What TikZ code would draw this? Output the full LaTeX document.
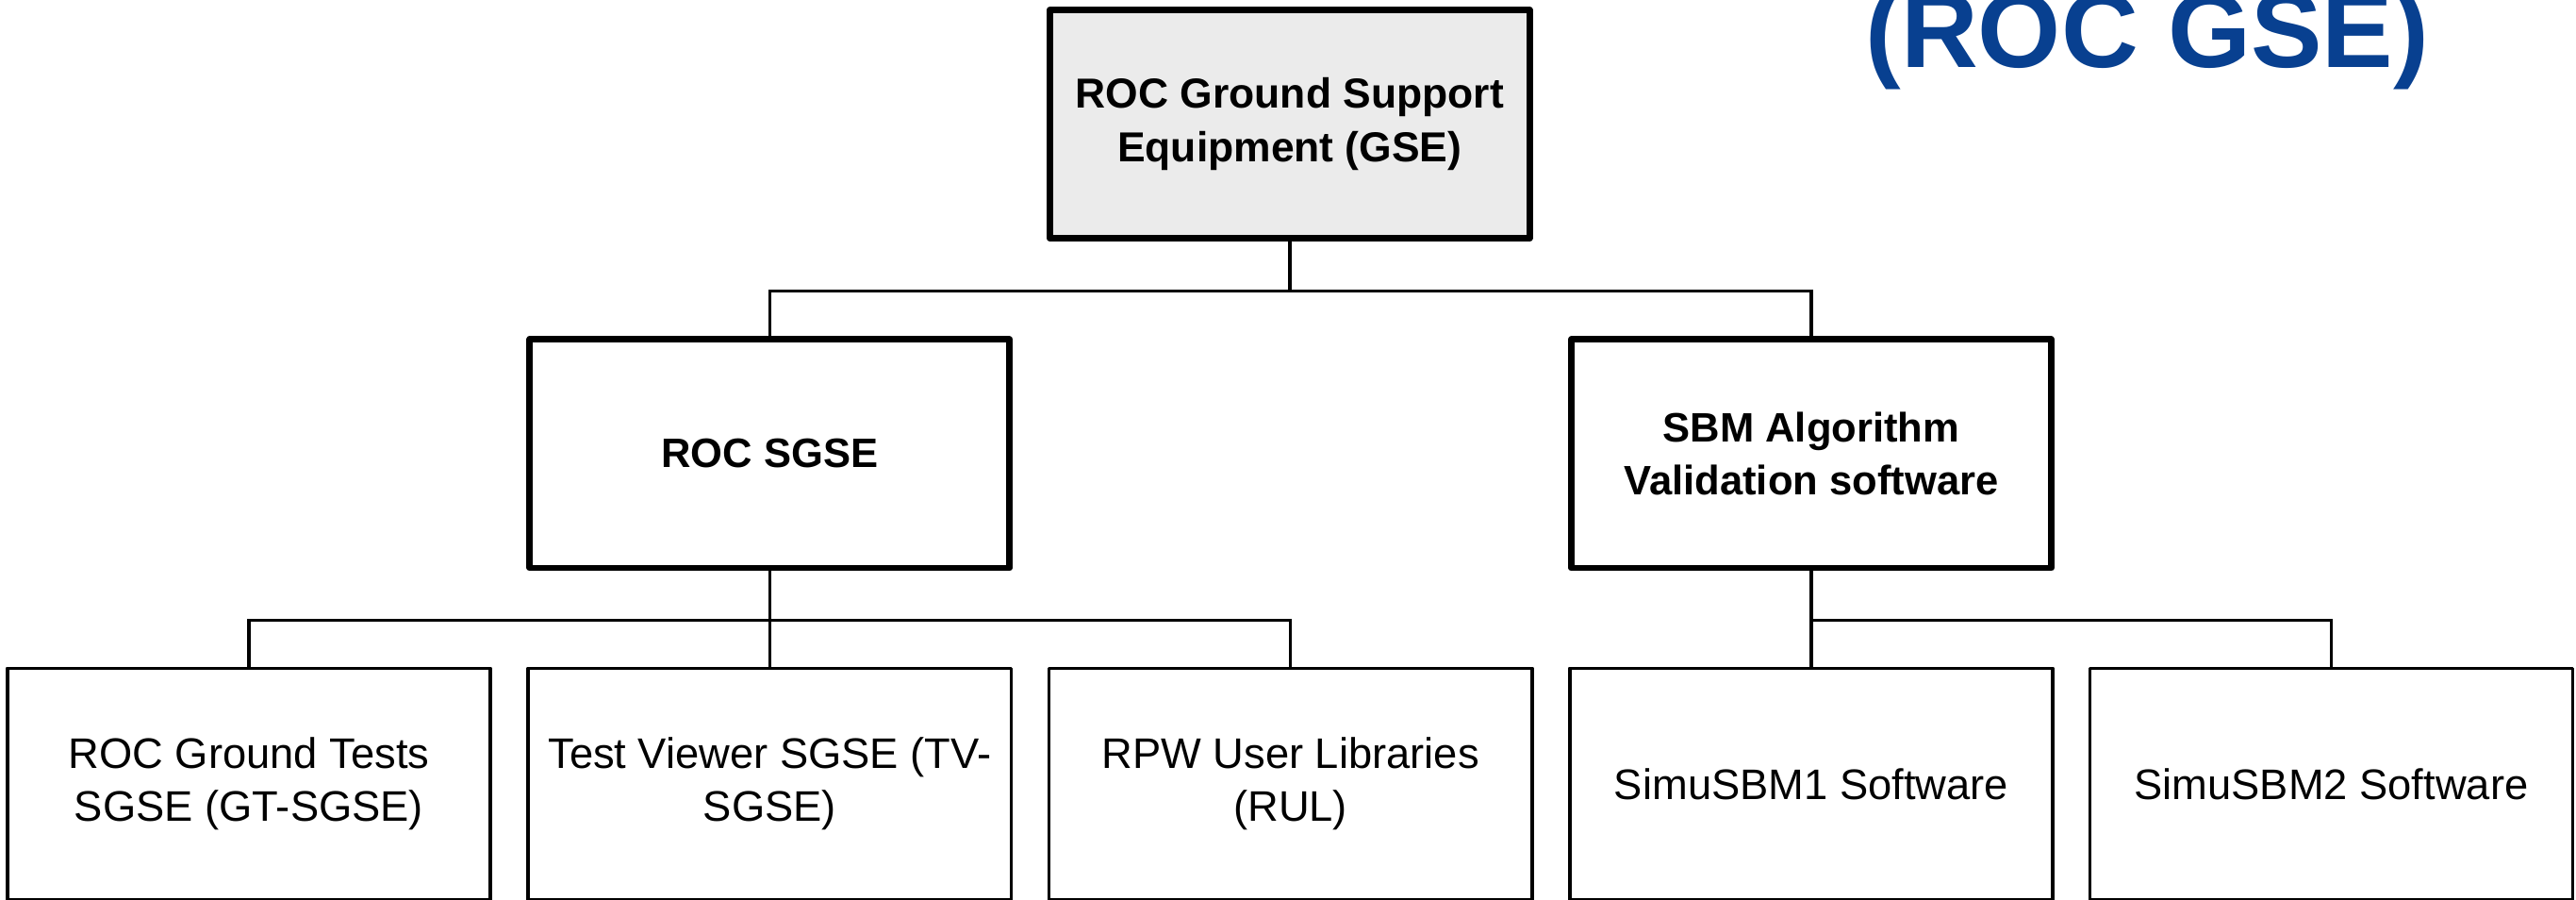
\documentclass[tikz,border=0pt]{standalone}
\usepackage{fontspec}
\setmainfont{Liberation Sans}
\definecolor{titleblue}{RGB}{8,64,144}
\definecolor{topgray}{RGB}{235,235,235}
\begin{document}
\begin{tikzpicture}[x=1pt,y=-1pt,
  thickbox/.style={draw=black, line width=4pt, line join=round, minimum width=292pt, minimum height=139pt, align=center, inner sep=0pt, font=\bfseries\fontsize{25}{32}\selectfont},
  thinbox/.style={draw=black, line width=2pt, line join=round, minimum width=294pt, minimum height=141pt, align=center, inner sep=0pt, font=\fontsize{26}{32}\selectfont},
  link/.style={draw=black, line width=2pt}]
\useasboundingbox (0,0) rectangle (1568,547);
\node[anchor=base, text=titleblue, font=\bfseries\fontsize{65}{70}\selectfont] (title) at (1307,41) {(ROC GSE)};
\node[thickbox, fill=topgray, font=\bfseries\fontsize{25.5}{33}\selectfont] (top) at (785,75.5) {ROC Ground Support\\Equipment (GSE)};
\node[thickbox] (sgse) at (468.5,276) {ROC SGSE};
\node[thickbox] (sbm) at (1102.5,276) {SBM Algorithm\\Validation software};
\node[thinbox] (gt) at (151.5,477) {ROC Ground Tests\\SGSE (GT-SGSE)};
\node[thinbox] (tv) at (468.5,477) {Test Viewer SGSE (TV-\\SGSE)};
\node[thinbox] (rul) at (785.5,477) {RPW User Libraries\\(RUL)};
\node[thinbox] (s1) at (1102.5,477) {SimuSBM1 Software};
\node[thinbox] (s2) at (1419,477) {SimuSBM2 Software};
\draw[link] (top.south) -- ++(0,30) coordinate (b1);
\draw[link] (b1) -| (sgse.north);
\draw[link] (b1) -| (sbm.north);
\draw[link] (sgse.south) -- ++(0,30) coordinate (b2);
\draw[link] (b2) -| (gt.north);
\draw[link] (b2) -- (tv.north);
\draw[link] (b2) -| (rul.north);
\draw[link] (sbm.south) -- ++(0,30) coordinate (b3);
\draw[link] (b3) -- (s1.north);
\draw[link] (b3) -| (s2.north);
\end{tikzpicture}
\end{document}
